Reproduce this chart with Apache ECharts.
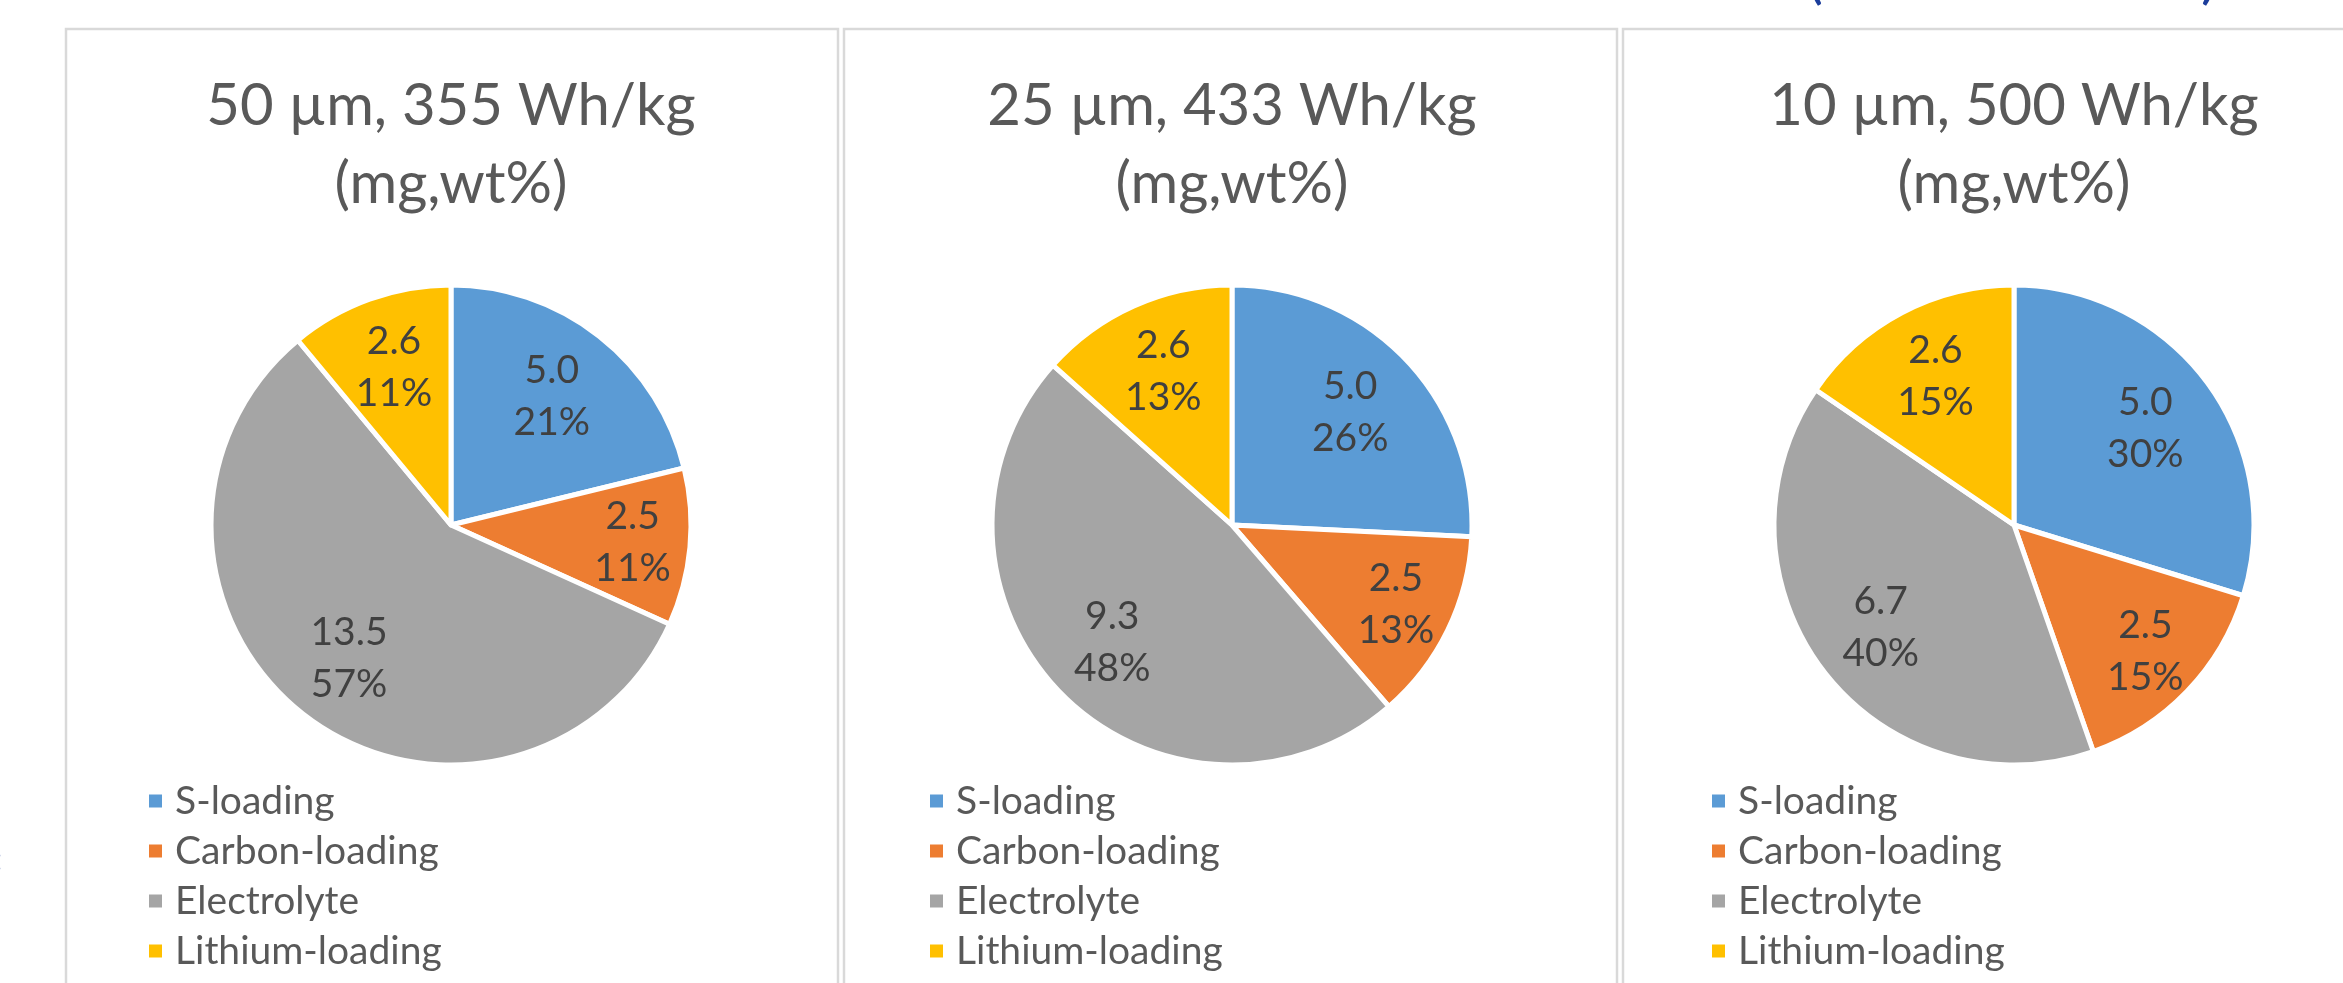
<!DOCTYPE html>
<html>
<head>
<meta charset="utf-8">
<script src="https://cdn.jsdelivr.net/npm/echarts@6/dist/echarts.min.js"></script>
<style>
  html, body { margin: 0; padding: 0; background: #ffffff; overflow: hidden; }
  #chart { width: 2343px; height: 983px; }
</style>
</head>
<body>
<div id="chart"></div>
<script>
// ---- data ----
const categories = ['S-loading', 'Carbon-loading', 'Electrolyte', 'Lithium-loading'];
const panelTitles = ['50 µm, 355 Wh/kg', '25 µm, 433 Wh/kg', '10 µm, 500 Wh/kg'];
const panelSubtitle = '(mg,wt%)';
const massesAt50um = [5.0, 2.5, 13.5, 2.6];
const massesAt25um = [5.0, 2.5, 9.3, 2.6];
const massesAt10um = [5.0, 2.5, 6.7, 2.6];
const valueSets = [massesAt50um, massesAt25um, massesAt10um];

// ---- layout & style ----
const COLORS = ['#5B9BD5', '#ED7D31', '#A5A5A5', '#FFC000'];
const FONT = 'Lato, "Open Sans", sans-serif';
const PANELS = [
  { x0: 66,   x1: 838,  cx: 451 },
  { x0: 844,  x1: 1617, cx: 1232 },
  { x0: 1623, x1: 2398, cx: 2014 }
];
const PIE_CY = 525;
const PIE_R = 240;
// how far out (as a share of the radius) each category's label sits
const LABEL_RADIAL = [0.68, 0.76, 0.70, 0.70];

function labelPlacer(p) {
  const vals = valueSets[p];
  const total = vals.reduce((a, b) => a + b, 0);
  return function (params) {
    const i = params.dataIndex;
    let before = 0;
    for (let k = 0; k < i; k++) before += vals[k];
    const mid = (before + vals[i] / 2) / total * Math.PI * 2;
    const rr = PIE_R * LABEL_RADIAL[i];
    return {
      x: PANELS[p].cx + rr * Math.sin(mid),
      y: PIE_CY - rr * Math.cos(mid)
    };
  };
}

const chart = echarts.init(document.getElementById('chart'), null, { renderer: 'canvas' });

const graphic = [];
// chart frames
PANELS.forEach(pn => {
  graphic.push({
    type: 'rect', silent: true,
    shape: { x: pn.x0, y: 29, width: pn.x1 - pn.x0, height: 1000 },
    style: { fill: 'none', stroke: '#D9D9D9', lineWidth: 2.5 }
  });
});
// panel headings
PANELS.forEach((pn, p) => {
  graphic.push({
    type: 'text', silent: true, x: pn.cx, y: 145,
    style: {
      text: panelTitles[p] + '\n' + panelSubtitle,
      font: '58px ' + FONT, fill: '#595959',
      align: 'center', verticalAlign: 'middle', lineHeight: 78
    }
  });
});
// surrounding page text that is cut off at the edges
graphic.push({
  type: 'text', silent: true, x: 1815, y: -22,
  style: { text: '(', font: '60px ' + FONT, fill: '#1B3D9B', align: 'center', verticalAlign: 'middle' }
});
graphic.push({
  type: 'text', silent: true, x: 2209, y: -22,
  style: { text: ')', font: '60px ' + FONT, fill: '#1B3D9B', align: 'center', verticalAlign: 'middle' }
});
graphic.push({
  type: 'text', silent: true, x: 2, y: 860,
  style: { text: ':', font: 'bold 34px ' + FONT, fill: '#1B3D9B', align: 'right', verticalAlign: 'middle' }
});

const option = {
  backgroundColor: '#ffffff',
  animation: false,
  color: COLORS,
  graphic: graphic,
  legend: PANELS.map(pn => ({
    orient: 'vertical',
    left: pn.cx - 309,
    top: 776,
    icon: 'rect',
    itemWidth: 15,
    itemHeight: 15,
    itemGap: 10,
    selectedMode: false,
    textStyle: {
      fontFamily: FONT, fontSize: 39, color: '#595959',
      lineHeight: 40, padding: [0, 0, 0, 7]
    },
    data: categories
  })),
  series: valueSets.map((vals, p) => ({
    type: 'pie',
    center: [PANELS[p].cx, PIE_CY],
    radius: PIE_R,
    startAngle: 90,
    clockwise: true,
    silent: true,
    itemStyle: { borderColor: '#ffffff', borderWidth: 5 },
    label: {
      show: true,
      position: 'inside',
      formatter: params => params.value.toFixed(1) + '\n' + Math.round(params.percent) + '%',
      fontFamily: FONT,
      fontSize: 39,
      lineHeight: 52,
      color: '#404040'
    },
    labelLine: { show: false },
    labelLayout: labelPlacer(p),
    data: categories.map((name, i) => ({ name: name, value: vals[i] }))
  }))
};

chart.setOption(option);
</script>
</body>
</html>
